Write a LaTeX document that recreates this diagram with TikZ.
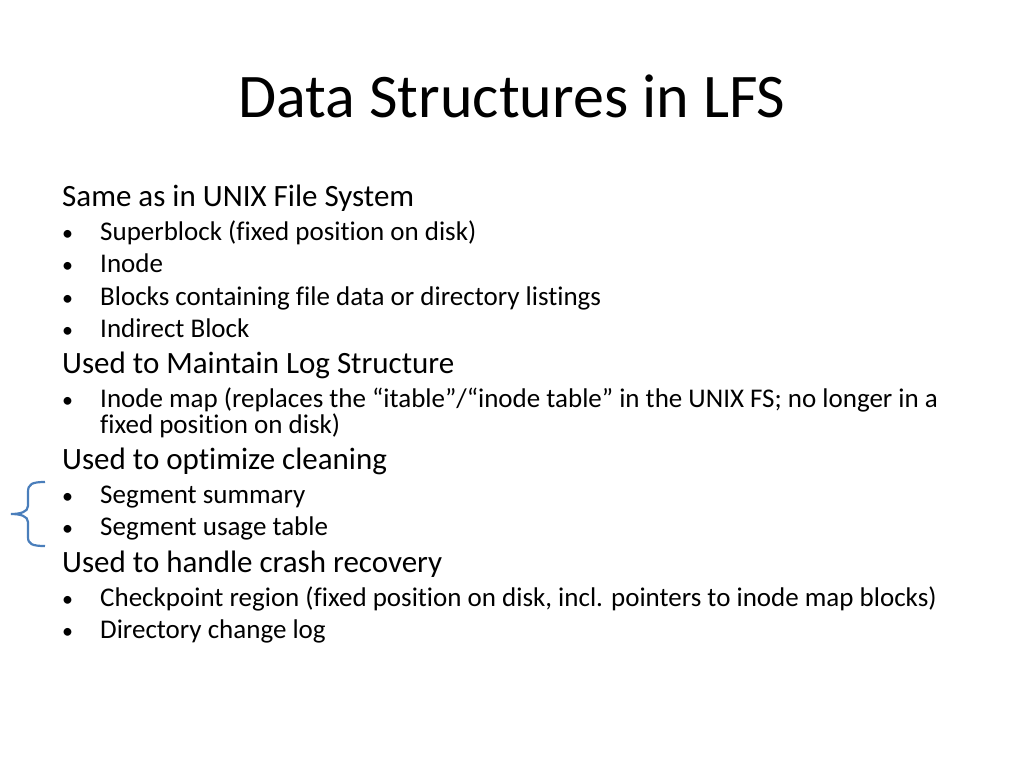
\documentclass[tikz,border=0pt]{standalone}
\usepackage{fontspec}
\setmainfont[Ligatures={NoCommon}]{Carlito}
\definecolor{brace}{HTML}{4A7EBB}
\begin{document}
\begin{tikzpicture}[x=1pt,y=-1pt,
  head/.style={anchor=base west,inner sep=0pt,font=\fontsize{31}{34}\selectfont},
  item/.style={anchor=base west,inner sep=0pt,font=\fontsize{27}{30}\selectfont},
  dot/.style={anchor=base west,inner sep=0pt,font=\fontsize{22}{26}\selectfont}]
\useasboundingbox (0,0) rectangle (1024,768);
\node[anchor=base,inner sep=0pt,font=\fontsize{62}{70}\selectfont] (title) at (512,117) {Data Structures in LFS};
\node[head] (h1) at (62,206) {Same as in UNIX File System};
\node[dot] (d1) at (62,240) {•};\node[item] (i1) at (100,240) {Superblock (fixed position on disk)};
\node[dot] (d2) at (62,272) {•};\node[item] (i2) at (100,272) {Inode};
\node[dot] (d3) at (62,305) {•};\node[item] (i3) at (100,305) {Blocks containing file data or directory listings};
\node[dot] (d4) at (62,337) {•};\node[item] (i4) at (100,337) {Indirect Block};
\node[head] (h2) at (62,373) {Used to Maintain Log Structure};
\node[dot] (d5) at (62,407) {•};\node[item] (i5) at (100,407) {Inode map (replaces the “itable”/“inode table” in the UNIX FS; no longer in a};
\node[item] (i5b) at (100,433) {fixed position on disk)};
\node[head] (h3) at (62,469) {Used to optimize cleaning};
\node[dot] (d6) at (62,503) {•};\node[item] (i6) at (100,503) {Segment summary};
\node[dot] (d7) at (62,535) {•};\node[item] (i7) at (100,535) {Segment usage table};
\node[head] (h4) at (62,572) {Used to handle crash recovery};
\node[dot] (d8) at (62,606) {•};\node[item] (i8) at (100,606) {Checkpoint region (fixed position on disk, incl. pointers to inode map blocks)};
\node[dot] (d9) at (62,638) {•};\node[item] (i9) at (100,638) {Directory change log};
\draw[brace,line width=2.2pt] (45,482) .. controls (32,482) and (28,484) .. (28,492)
  -- (28,506) .. controls (28,512) and (20,514) .. (11,514)
  .. controls (20,514) and (28,516) .. (28,522) -- (28,537)
  .. controls (28,544) and (32,546) .. (45,546);
\end{tikzpicture}
\end{document}
